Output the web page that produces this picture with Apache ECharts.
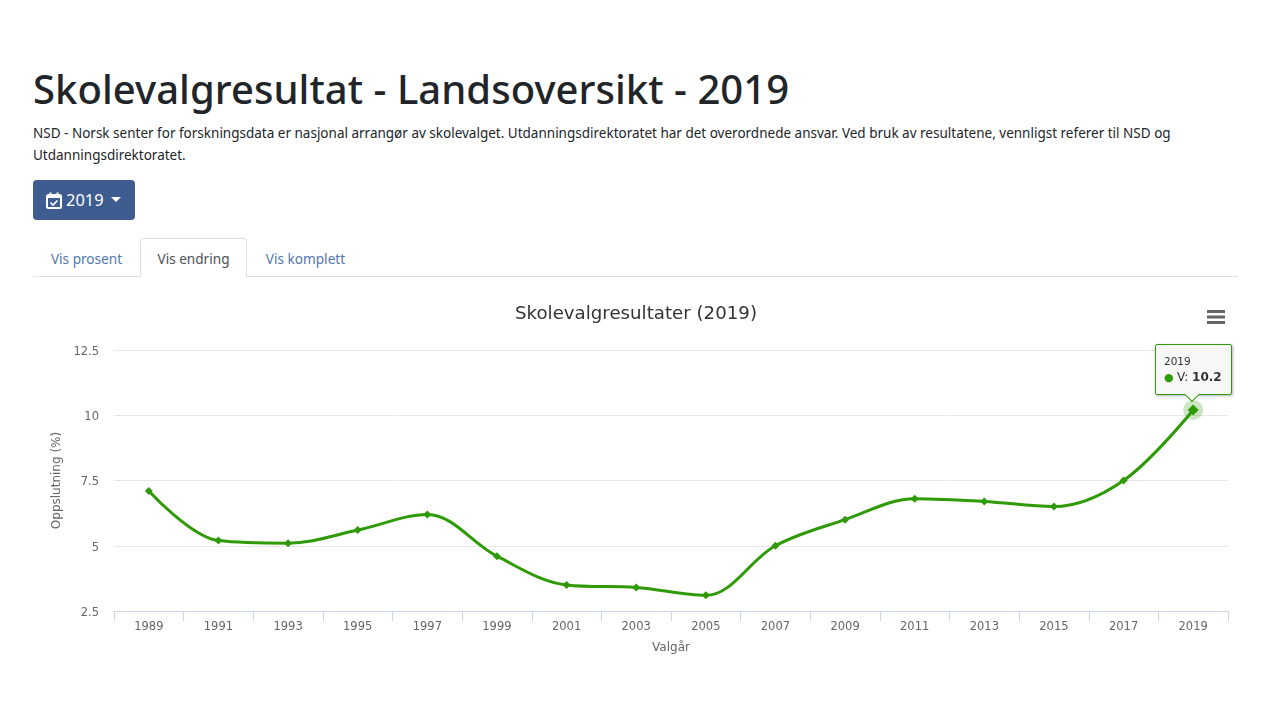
<!DOCTYPE html>
<html>
<head>
<meta charset="utf-8">
<title>Skolevalgresultat</title>
<script src="https://cdn.jsdelivr.net/npm/echarts@6/dist/echarts.min.js"></script>
<style>
html, body { margin: 0; padding: 0; background: #fff; width: 1280px; height: 720px; overflow: hidden; font-family: "Noto Sans", sans-serif; color: #212529; }
#main { position: absolute; left: 0; top: 0; width: 1280px; height: 720px; }
h1 { position: absolute; left: 33px; top: 62px; margin: 0; font-size: 40px; line-height: 54px; font-weight: 500; white-space: nowrap; letter-spacing: 0.05px; }
p { position: absolute; left: 33px; top: 122px; width: 1170px; margin: 0; font-size: 13.5px; line-height: 22px; }
.btn { position: absolute; left: 33px; top: 180px; width: 102px; height: 40px; background: #3e5c8f; border-radius: 4px; color: #fff; font-size: 16.4px; line-height: 40px; }
.btn svg { position: absolute; left: 13px; top: 12px; }
.btn span { position: absolute; left: 33px; }
.btn i { position: absolute; left: 78px; top: 17px; border: 5px solid transparent; border-top-color: #fff; border-bottom: 0; }
.tabline { position: absolute; left: 33px; top: 276px; width: 1205px; height: 1px; background: #dee2e6; }
.tab { position: absolute; top: 238px; height: 39px; line-height: 41px; font-size: 13.6px; color: #4f77ae; text-align: center; box-sizing: border-box; }
.tab.on { color: #495057; background: #fff; border: 1px solid #dee2e6; border-bottom: 0; border-radius: 4px 4px 0 0; line-height: 39px; }
</style>
</head>
<body>
<h1>Skolevalgresultat - Landsoversikt - 2019</h1>
<p>NSD - Norsk senter for forskningsdata er nasjonal arrangør av skolevalget. Utdanningsdirektoratet har det overordnede ansvar. Ved bruk av resultatene, vennligst referer til NSD og Utdanningsdirektoratet.</p>
<div class="btn">
  <svg width="16" height="17" viewBox="0 0 16 17"><rect x="1" y="3" width="14" height="13" rx="1.5" fill="none" stroke="#fff" stroke-width="2"/><rect x="1" y="3" width="14" height="3" fill="#fff"/><rect x="3.5" y="0.5" width="2" height="3" fill="#fff"/><rect x="10.5" y="0.5" width="2" height="3" fill="#fff"/><path d="M4.5 10.5l2.5 2.5 4.5-4.5" fill="none" stroke="#fff" stroke-width="1.6"/></svg>
  <span>2019</span><i></i>
</div>
<div class="tab" style="left:33px;width:107px">Vis prosent</div>
<div class="tab" style="left:247px;width:117px">Vis komplett</div>
<div class="tabline"></div>
<div class="tab on" style="left:140px;width:107px">Vis endring</div>
<div id="main"></div>
<script>
var years = ['1989','1991','1993','1995','1997','1999','2001','2003','2005','2007','2009','2011','2013','2015','2017','2019'];
var oppslutning = [7.1, 5.2, 5.1, 5.6, 6.2, 4.6, 3.5, 3.4, 3.1, 5.0, 6.0, 6.8, 6.7, 6.5, 7.5, 10.2];
var seriesName = 'V';
var green = '#2f9a07';
var textColor = '#666';
var chartFont = '"DejaVu Sans", sans-serif';

var chart = echarts.init(document.getElementById('main'), null, {renderer: 'canvas'});
var lastIndex = years.length - 1;

chart.setOption({
    animation: false,
    backgroundColor: 'transparent',
    textStyle: {fontFamily: chartFont},
    title: {
        text: 'Skolevalgresultater (2019)',
        left: 631,
        top: 300,
        textAlign: 'center',
        textStyle: {fontSize: 18.2, fontWeight: 'normal', color: '#333', fontFamily: chartFont}
    },
    grid: {left: 114, right: 52, top: 350, bottom: 109},
    tooltip: {
        trigger: 'item',
        alwaysShowContent: true,
        transitionDuration: 0,
        padding: 0,
        borderWidth: 0,
        backgroundColor: 'transparent',
        extraCssText: 'box-shadow:none;',
        position: function () {
            return [1155, 344];
        },
        formatter: function (p) {
            return '<div style="position:relative;box-sizing:border-box;width:77px;height:51px;background:#f7f7f7;border:1px solid ' + green + ';border-radius:2px;box-shadow:1px 1px 3px rgba(0,0,0,.3);padding:8px 8px;font-family:' + "'DejaVu Sans'" + ';font-size:10.5px;line-height:16px;color:#333;">'
                + p.name + '<br><span style="color:' + green + ';font-size:11px;">&#9679;</span> <span style="font-size:12px;">' + seriesName + ': <b>' + p.value + '</b></span>'
                + '<div style="position:absolute;left:31px;bottom:-6px;width:9px;height:9px;background:#f7f7f7;border-right:1px solid ' + green + ';border-bottom:1px solid ' + green + ';transform:rotate(45deg);"></div></div>';
        }
    },
    xAxis: {
        type: 'category',
        data: years,
        name: 'Valgår',
        nameLocation: 'middle',
        nameGap: 31,
        nameTextStyle: {fontSize: 12, color: textColor, fontFamily: chartFont},
        boundaryGap: true,
        axisLine: {show: true, onZero: false, lineStyle: {color: '#ccd6eb', width: 1}},
        axisTick: {show: true, length: 10, alignWithLabel: false, lineStyle: {color: '#ccd6eb'}},
        axisLabel: {fontSize: 11.5, color: textColor, margin: 10, fontFamily: chartFont},
        splitLine: {show: false}
    },
    yAxis: {
        type: 'value',
        min: 2.5,
        max: 12.5,
        interval: 2.5,
        name: 'Oppslutning (%)',
        nameLocation: 'middle',
        nameGap: 50,
        nameTextStyle: {fontSize: 12, color: textColor, fontFamily: chartFont},
        axisLine: {show: false},
        axisTick: {show: false},
        axisLabel: {
            margin: 15,
            formatter: '{v|{value}}',
            rich: {v: {fontSize: 11.5, color: textColor, fontFamily: chartFont, padding: [4, 0, 0, 0]}}
        },
        splitLine: {lineStyle: {color: '#e6e6e6', width: 1}}
    },
    series: [{
        name: seriesName,
        type: 'line',
        data: oppslutning,
        smooth: 0.35,
        symbol: 'diamond',
        symbolSize: function (val, p) {
            return p.dataIndex === lastIndex ? 11 : 8;
        },
        lineStyle: {color: green, width: 3},
        itemStyle: {color: green},
        emphasis: {disabled: true},
        markPoint: {
            silent: true,
            symbol: 'circle',
            symbolSize: 20,
            itemStyle: {color: green, opacity: 0.25},
            label: {show: false},
            data: [{coord: [years[lastIndex], oppslutning[lastIndex]]}]
        }
    }],
    graphic: [{
        type: 'group',
        left: 1207,
        top: 310,
        children: [
            {type: 'rect', shape: {x: 0, y: 0, width: 18, height: 3}, style: {fill: '#666'}},
            {type: 'rect', shape: {x: 0, y: 5.5, width: 18, height: 3}, style: {fill: '#666'}},
            {type: 'rect', shape: {x: 0, y: 11, width: 18, height: 3}, style: {fill: '#666'}}
        ]
    }]
});

chart.dispatchAction({type: 'showTip', seriesIndex: 0, dataIndex: lastIndex});
</script>
</body>
</html>
